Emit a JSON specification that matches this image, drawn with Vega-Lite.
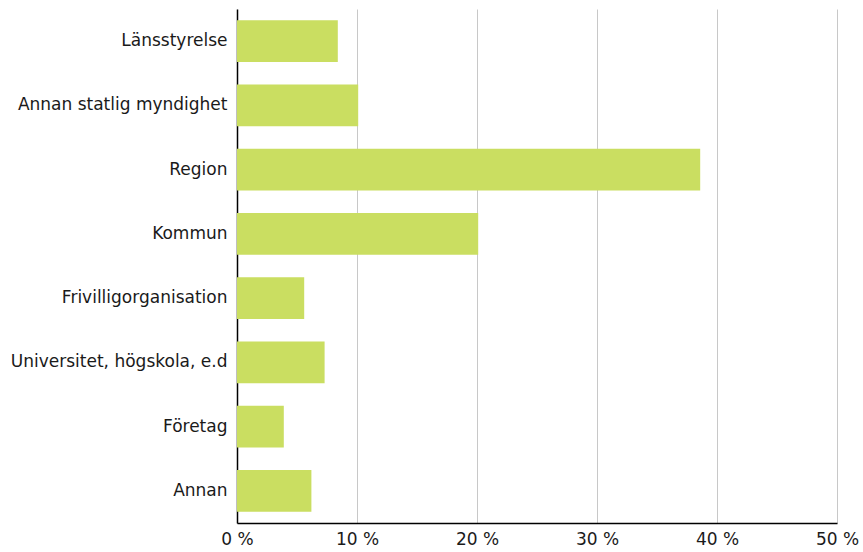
{
  "$schema": "https://vega.github.io/schema/vega-lite/v6.json",
  "autosize": "none",
  "padding": {"left": 237, "top": 9, "right": 26, "bottom": 29},
  "width": 600,
  "height": 514,
  "background": "white",
  "data": {
    "values": [
      {"kategori": "Länsstyrelse", "andel": 8.4},
      {"kategori": "Annan statlig myndighet", "andel": 10.1},
      {"kategori": "Region", "andel": 38.6},
      {"kategori": "Kommun\u00a0", "andel": 20.1},
      {"kategori": "Frivilligorganisation", "andel": 5.6},
      {"kategori": "Universitet, högskola, e.d", "andel": 7.3},
      {"kategori": "Företag", "andel": 3.9},
      {"kategori": "Annan", "andel": 6.2}
    ]
  },
  "mark": {"type": "bar", "color": "#cade61"},
  "encoding": {
    "y": {
      "field": "kategori",
      "type": "nominal",
      "sort": null,
      "title": null,
      "scale": {"paddingInner": 0.35, "paddingOuter": 0.175},
      "axis": {
        "ticks": false,
        "domainColor": "#000000",
        "domainWidth": 1.5,
        "labelFont": "DejaVu Sans",
        "labelFontSize": 17,
        "labelColor": "#1a1a1a",
        "labelPadding": 10,
        "labelLimit": 400
      }
    },
    "x": {
      "field": "andel",
      "type": "quantitative",
      "title": null,
      "scale": {"domain": [0, 50], "nice": false},
      "axis": {
        "values": [0, 10, 20, 30, 40, 50],
        "labelExpr": "datum.value + ' %'",
        "ticks": false,
        "domainColor": "#000000",
        "domainWidth": 1.5,
        "grid": true,
        "gridColor": "#c8c8c8",
        "gridWidth": 1,
        "labelFont": "DejaVu Sans",
        "labelFontSize": 17,
        "labelColor": "#1a1a1a",
        "labelPadding": 8,
        "labelFlush": false
      }
    }
  },
  "config": {"view": {"stroke": null}}
}
